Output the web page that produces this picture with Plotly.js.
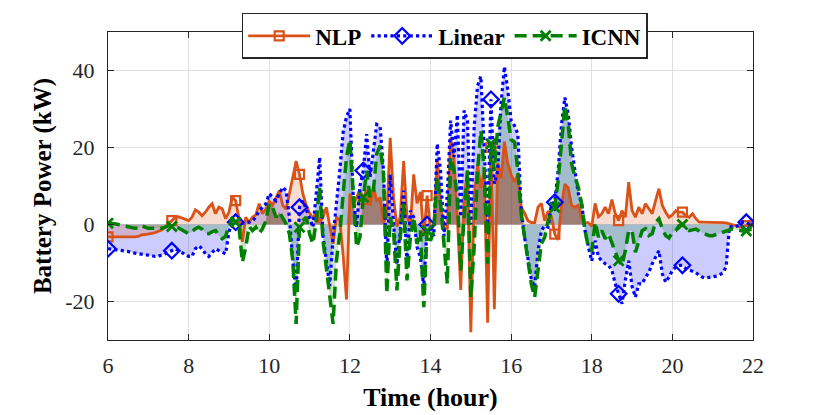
<!DOCTYPE html>
<html>
<head>
<meta charset="utf-8">
<script src="https://cdn.plot.ly/plotly-3.0.1.min.js"></script>
<style>
  html, body { margin: 0; padding: 0; background: #ffffff; }
  #chart { width: 830px; height: 415px; }
</style>
</head>
<body>
<div id="chart"></div>
<script>
// ---------- data (5-minute resolution, 06:00 to 22:00) ----------
const startHour = 6;
const stepsPerHour = 12;
const markerEvery = 19;

const seriesNames = ['NLP', 'Linear', 'ICNN'];

const nlp = [
  -3.2, -3.2, -3.3, -3.3, -3.3, -3.3, -3.3, -3.3, -3.2, -3.1,
  -2.7, -2.6, -2.5, -2.3, -2.1, -1.8, -1.4, -0.8, 0.3,
  1.0, 1.8, 2.0, 1.6, 1.4,
  1.0, 1.9, 3.8, 3.2, 2.3, 3.2, 4.5, 5.4, 2.8, 4.5, 4.1, 1.5, 3.2,
  7.1, 6.2, 1.5, -4.5, 1.9, 0.6, 1.9,
  2.5, 5.4, 2.8, 4.0, 6.0, 5.0, 7.0, 8.8, 5.0, 4.0, 8.0, 12.0, 16.5, 13.0, 8.0, 5.0,
  3.0, 1.5, 3.5, 0.5, 2.0, 4.5, 0.0, -5.0, 2.0, 1.0, -8.0, -19.5,
  8.0, 5.0, 7.0, 9.0, 6.5, 9.0, 5.0, 10.0, 6.0, 7.0, 0.5, 2.0,
  22.5, 7.0, -0.5, 2.0, 16.5, 2.0, -0.5, 13.0, 5.5, 8.5, -3.0, 7.5,
  -1.5, 0.0, 17.0, 5.0, -1.0, -1.0, 22.5, 17.0, 2.0, -17.0, 7.0, 14.0, -28.0,
  7.0, 15.5, 9.5, 14.0, -25.5, 20.0, -22.0, 16.0, 12.0, 21.5, 16.0, 13.0,
  11.0, 13.0, 4.5, 3.0, 1.0, 0.5, 0.5, 4.5, 5.5, 1.0, 3.5, 2.0,
  -2.5, -4.0, 5.0, 10.5, 9.5, 5.0, 4.5, 5.0, 1.5, 0.5, 0.5, -0.5,
  5.5, 2.0, 2.8, 4.5, 2.8, 6.5, 2.8, 1.0, 3.6, 1.9, 11.0, 3.6, 1.9, 4.5, 2.8, 5.4, 4.1,
  2.8, 6.2, 9.3, 5.0, 3.2, 1.9, 2.5, 3.6, 3.2, 3.2, 2.3, 1.9, 2.8, 1.5, 0.6, 0.6, 0.6,
  0.6, 0.6, 0.6, 0.6, 0.5, 0.4, 0.2, 0.0, -0.3, -0.6, -0.5, -0.3, -0.3, -0.3
];

const linear = [
  -6.3, -6.4, -6.5, -6.6, -6.7, -6.8, -7.0, -7.3, -7.4, -7.6, -7.8, -7.9, -8.0, -8.1, -8.3, -8.2, -8.0, -7.6, -7.0,
  -6.8, -6.3, -6.8, -7.2, -7.8, -8.3, -8.3, -6.3, -5.5, -6.3, -7.6, -8.3, -7.2, -6.3, -6.8, -7.2, -7.6,
  -2.0, 0.6, 0.6, 0.6, 0.3, 0.6, 0.6, 0.9, 1.9, 3.6, 4.5, 5.4,
  8.0, 7.0, 6.2, 8.0, 9.7, 8.8, 1.9, -9.4, -18.0, 4.5, 6.2, 4.0,
  1.9, -0.7, 8.0, 17.5, -3.0, -10.0, -16.0, -3.0, 5.0, 14.0, 24.0, 28.0, 30.0,
  7.1, -0.7, 10.0, 14.0, 23.5, 12.3, 20.0, 26.0, 25.5, 14.0, -12.0, 13.0,
  0.2, -10.4, -1.6, 8.8, -10.4, 3.6, 1.9, -5.9, -8.5, -16.3, 0.0,
  -1.0, -3.0, 21.0, 14.0, -3.0, 8.0, 27.0, 17.5, 28.5, 2.0, 29.6, 27.0,
  0.0, 25.4, 36.0, 38.5, 20.0, 0.0, 32.5, 10.6, 14.0, 31.5, 41.0, 35.0, 27.0,
  25.7, 23.5, 3.6, -3.3, -8.5, -14.2, -16.3, -6.8, -1.6, -0.3, -0.7, 5.4,
  5.8, 14.0, 26.0, 33.0, 28.7, 20.0, 14.0, 8.0, 5.4, -1.6, -5.9, -9.5,
  -4.2, -8.5, -9.4, -10.2, -10.6, -11.9, -15.4, -18.0, -20.6, -14.5, -9.4, -16.1,
  -18.9, -15.4, -15.4, -13.7, -12.4, -10.2, -8.5, -6.8, -12.8, -15.0, -13.7, -11.9,
  -11.1, -10.6, -10.6, -11.5, -11.8, -12.1, -12.5, -13.2, -13.7, -13.9, -13.8, -13.7,
  -13.4, -13.1, -12.6, -11.0, -0.5, -0.7, -0.5, -0.2, 0.6, 0.6, 0.0, -0.3
];

const icnn = [
  0.3, 0.3, 0.2, 0.0, -0.2, -0.3, -0.5, -0.9, -1.0, -0.9, -0.3, -0.7, -1.0, -1.0, -1.0, -1.1, -1.0, -0.7, -0.3,
  -0.5, -0.5, -0.9, -1.4, -1.7, -2.4, -1.9, -1.1, -0.7, -1.2, -2.3, -2.4, -1.9, -1.6, -2.9, -3.7,
  -3.1, -0.3, 1.5, 0.6, -0.7, -9.8, -5.9, -0.5, -1.6,
  -0.7, -2.3, -1.1, 1.0, 5.4, 4.5, 1.9, 3.2, 1.9, 0.2, -2.4, -9.4, -25.8, -0.7, 1.0, 1.9,
  -2.4, -5.0, 1.0, 9.7, -4.1, -11.2, -18.0, -25.8, -9.4, -2.4, 8.0, 17.5, 22.0,
  7.1, -5.9, -3.3, 7.1, 14.0, 7.1, 8.8, 18.4, 20.5, 13.2, -18.0, 1.9,
  -1.5, -17.1, -3.3, 5.4, -14.5, -3.3, 1.9, -5.0, -1.6, -21.5, -1.6, -4.2,
  -1.6, 12.3, 5.4, -5.0, -15.4, 17.5, 14.0, 7.1, -12.0, 1.9, 14.0, -18.9,
  -5.9, 14.0, 24.4, 14.0, -10.2, 21.0, 14.0, 25.3, 28.7, 33.0, 27.9, 22.0,
  21.4, 14.0, 2.8, -3.3, -8.5, -15.4, -18.9, -12.0, -5.0, -3.3, 1.0, 3.2,
  4.5, 11.4, 21.8, 30.9, 26.1, 15.8, 12.3, 9.7, 5.4, -1.6, -5.9, -7.0,
  0.6, -3.3, -1.6, -3.7, -2.4, -4.6, -7.2, -9.4, -10.6, -6.8, -1.6, -1.6,
  -7.2, -4.2, -1.6, -1.1, -2.9, -2.4, 0.6, 1.5, -1.1, -2.9, -3.5, -2.0,
  -1.6, -0.3, 0.0, -1.1, -1.6, -1.4, -1.2, -1.7, -2.2, -2.6, -2.9, -2.9,
  -2.6, -2.3, -1.9, -1.6, -1.2, -1.1, -1.4, -1.6, -1.7, -1.7, -1.4, -0.9
];

const xTickVals = [6, 8, 10, 12, 14, 16, 18, 20, 22];
const yTickVals = [-20, 0, 20, 40];

// ---------- styling ----------
const colors = { NLP: '#D95319', Linear: '#0000FF', ICNN: '#008000' };
const fills = {
  NLP: 'rgba(217,83,25,0.2)',
  Linear: 'rgba(0,0,255,0.2)',
  ICNN: 'rgba(0,128,0,0.2)'
};
const FONT = 'Liberation Serif, Times New Roman, serif';
const AXIS = '#262626';

const t = nlp.map((_, i) => startHour + i / stepsPerHour);
const values = { NLP: nlp, Linear: linear, ICNN: icnn };

function markerColors(name) {
  return t.map((_, i) => (i % markerEvery === 0 ? colors[name] : 'rgba(0,0,0,0)'));
}

function fillTrace(name) {
  return {
    x: t, y: values[name], type: 'scatter', mode: 'lines',
    line: { width: 0, color: 'rgba(0,0,0,0)' },
    fill: 'tozeroy', fillcolor: fills[name],
    showlegend: false, hoverinfo: 'skip'
  };
}

// region where all three areas overlap above zero (rendered darker in the reference)
const overlapPos = t.map((_, i) =>
  (nlp[i] > 0 && linear[i] > 0 && icnn[i] > 0) ? Math.min(nlp[i], linear[i], icnn[i]) : 0);

const traces = [
  fillTrace('Linear'),
  fillTrace('ICNN'),
  fillTrace('NLP'),
  {
    x: t, y: overlapPos, type: 'scatter', mode: 'lines',
    line: { width: 0, color: 'rgba(0,0,0,0)' },
    fill: 'tozeroy', fillcolor: 'rgba(126,30,0,0.3)',
    showlegend: false, hoverinfo: 'skip'
  },
  {
    name: 'NLP', x: t, y: nlp, type: 'scatter', mode: 'lines+markers',
    line: { color: colors.NLP, width: 2.8 },
    marker: { symbol: 'square-open', size: 9, color: markerColors('NLP'),
              line: { width: 2.2, color: markerColors('NLP') } }
  },
  {
    name: 'Linear', x: t, y: linear, type: 'scatter', mode: 'lines+markers',
    line: { color: colors.Linear, width: 3.2, dash: 'dot' },
    marker: { symbol: 'diamond-open', size: 12, color: markerColors('Linear'),
              line: { width: 2.2, color: markerColors('Linear') } }
  },
  {
    name: 'ICNN', x: t, y: icnn, type: 'scatter', mode: 'lines+markers',
    line: { color: colors.ICNN, width: 3.5, dash: '12px,6px' },
    marker: { symbol: 'x-thin-open', size: 10, color: markerColors('ICNN'),
              line: { width: 2.8, color: markerColors('ICNN') } }
  }
];

const axisCommon = {
  showline: true, linecolor: AXIS, linewidth: 1, mirror: 'ticks',
  ticks: 'inside', ticklen: 6, tickwidth: 1, tickcolor: AXIS,
  showgrid: true, gridcolor: '#e0e0e0', gridwidth: 1, zeroline: false,
  tickfont: { family: FONT, size: 22, color: AXIS },
  automargin: false, fixedrange: true
};

const layout = {
  width: 830, height: 415,
  paper_bgcolor: '#ffffff', plot_bgcolor: '#ffffff',
  margin: { l: 108, r: 77, t: 32, b: 75 },
  showlegend: true,
  legend: {
    orientation: 'h', x: 0.522, xanchor: 'center', y: 1.062, yanchor: 'top',
    bgcolor: '#ffffff', bordercolor: AXIS, borderwidth: 1.5,
    font: { family: FONT, size: 23, color: '#000000', weight: 'bold' },
    traceorder: 'normal', itemwidth: 62, tracegroupgap: 0
  },
  xaxis: Object.assign({}, axisCommon, {
    range: [6, 22], tickvals: xTickVals, ticktext: xTickVals.map(String),
    ticklabelstandoff: 6,
    title: { text: 'Time (hour)', standoff: 10,
             font: { family: FONT, size: 26, color: '#000000', weight: 'bold' } }
  }),
  yaxis: Object.assign({}, axisCommon, {
    range: [-30, 50], tickvals: yTickVals, ticktext: yTickVals.map(String),
    ticklabelstandoff: 8,
    title: { text: 'Battery Power (kW)', standoff: 6,
             font: { family: FONT, size: 25, color: '#000000', weight: 'bold' } }
  })
};

Plotly.newPlot('chart', traces, layout, { staticPlot: true, displayModeBar: false });
</script>
</body>
</html>
